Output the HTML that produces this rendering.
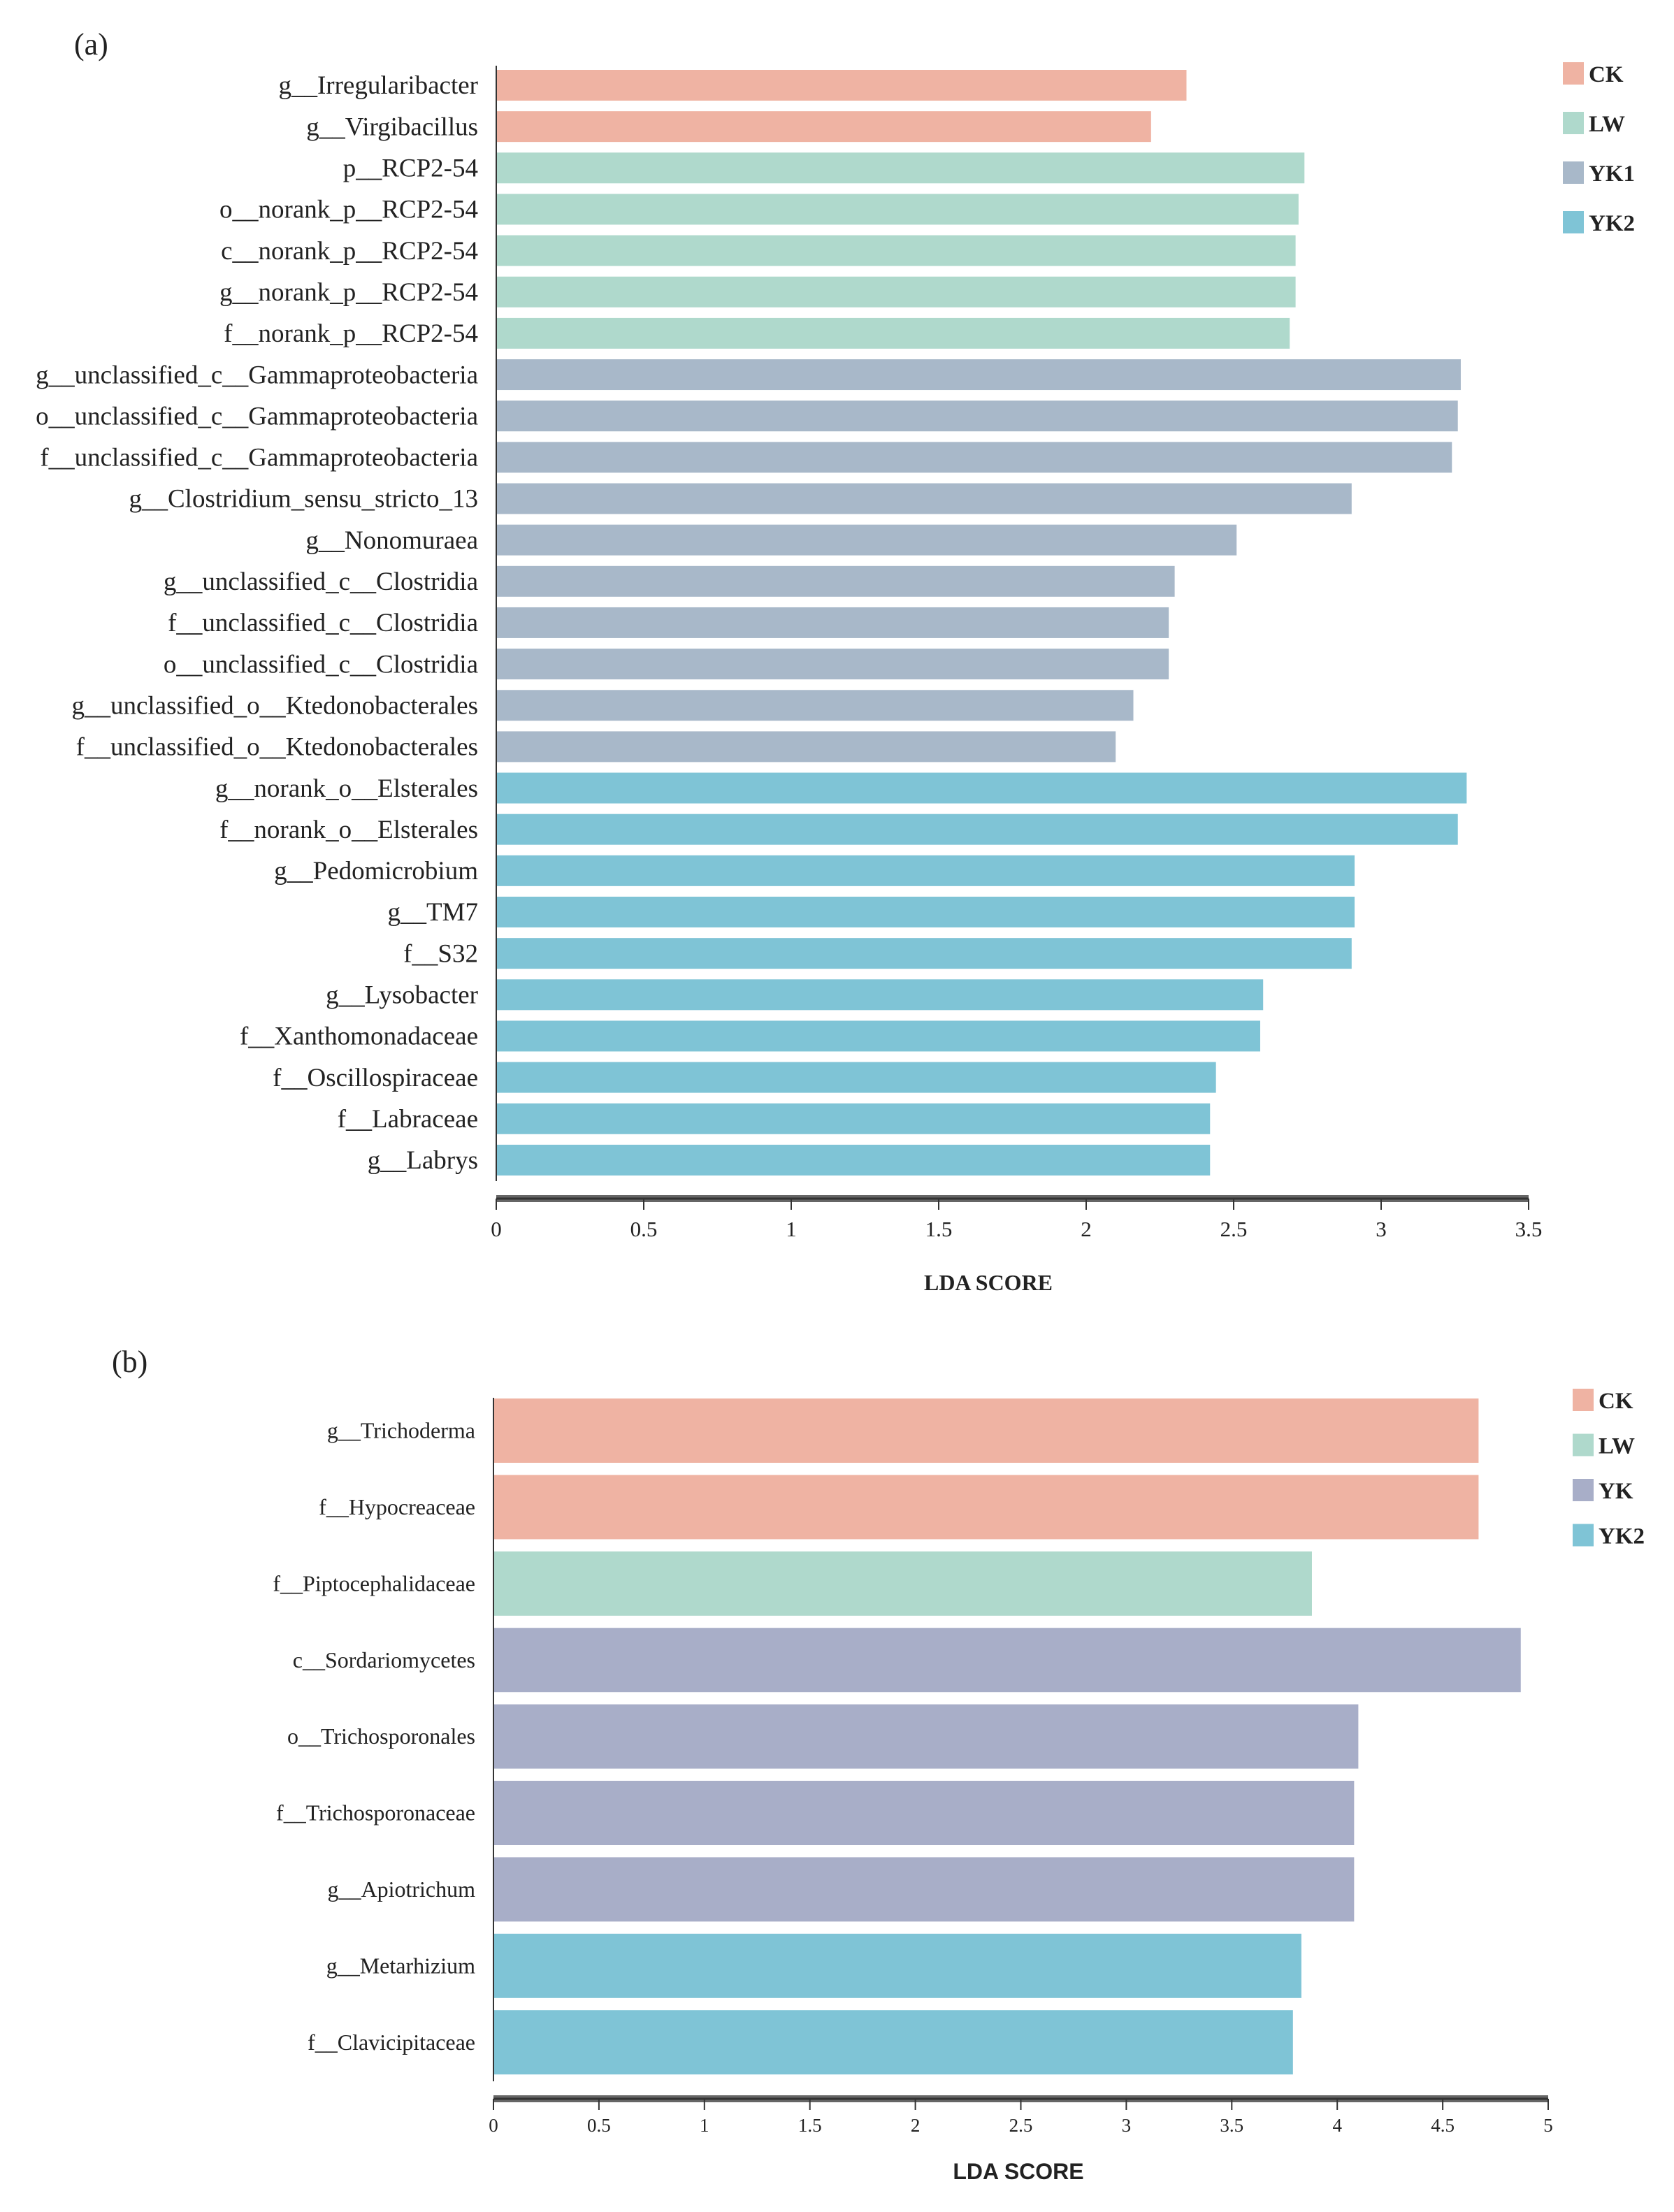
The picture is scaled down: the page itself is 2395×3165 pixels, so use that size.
<!DOCTYPE html>
<html><head><meta charset="utf-8"><style>
html,body{margin:0;padding:0;background:#fff;}
svg{display:block;}
text{font-family:"Liberation Serif",serif;fill:#222;}
</style></head><body>
<svg id="chart" width="2395" height="3165" viewBox="0 0 2395 3165" xmlns="http://www.w3.org/2000/svg"></svg>
<script>
// Panel (a) data
const catsA = ["g__Irregularibacter","g__Virgibacillus","p__RCP2-54","o__norank_p__RCP2-54","c__norank_p__RCP2-54","g__norank_p__RCP2-54","f__norank_p__RCP2-54","g__unclassified_c__Gammaproteobacteria","o__unclassified_c__Gammaproteobacteria","f__unclassified_c__Gammaproteobacteria","g__Clostridium_sensu_stricto_13","g__Nonomuraea","g__unclassified_c__Clostridia","f__unclassified_c__Clostridia","o__unclassified_c__Clostridia","g__unclassified_o__Ktedonobacterales","f__unclassified_o__Ktedonobacterales","g__norank_o__Elsterales","f__norank_o__Elsterales","g__Pedomicrobium","g__TM7","f__S32","g__Lysobacter","f__Xanthomonadaceae","f__Oscillospiraceae","f__Labraceae","g__Labrys"];
const valsA = [2.34,2.22,2.74,2.72,2.71,2.71,2.69,3.27,3.26,3.24,2.90,2.51,2.30,2.28,2.28,2.16,2.10,3.29,3.26,2.91,2.91,2.90,2.60,2.59,2.44,2.42,2.42];
const groupsA = ["CK","CK","LW","LW","LW","LW","LW","YK1","YK1","YK1","YK1","YK1","YK1","YK1","YK1","YK1","YK1","YK2","YK2","YK2","YK2","YK2","YK2","YK2","YK2","YK2","YK2"];
const legendA = ["CK","LW","YK1","YK2"];
const ticksA = ["0","0.5","1","1.5","2","2.5","3","3.5"];
// Panel (b) data
const catsB = ["g__Trichoderma","f__Hypocreaceae","f__Piptocephalidaceae","c__Sordariomycetes","o__Trichosporonales","f__Trichosporonaceae","g__Apiotrichum","g__Metarhizium","f__Clavicipitaceae"];
const valsB = [4.67,4.67,3.88,4.87,4.10,4.08,4.08,3.83,3.79];
const groupsB = ["CK","CK","LW","YK","YK","YK","YK","YK2","YK2"];
const legendB = ["CK","LW","YK","YK2"];
const ticksB = ["0","0.5","1","1.5","2","2.5","3","3.5","4","4.5","5"];

const colors = {CK:"#efb3a3",LW:"#afd9cc",YK1:"#a8b8c9",YK:"#a8aec8",YK2:"#7fc4d6"};
const svg = document.getElementById('chart');
const NS = "http://www.w3.org/2000/svg";
function mk(tag, attrs, parent){ const e=document.createElementNS(NS,tag); for(const k in attrs) e.setAttribute(k,attrs[k]); (parent||svg).appendChild(e); return e; }

function panel(cfg){
  const g = mk('g',{});
  
  
  const xs = v => cfg.x0 + v*cfg.unit;
  const ys = i => cfg.y0 + i*cfg.pitch;
  const t = mk('text',{x:cfg.titleX,y:cfg.titleY,'font-size':44},g); t.textContent=cfg.title;
  
  
  cfg.cats.forEach((c,i)=>{
    const r = mk('rect',{x:xs(0),y:ys(i)-cfg.bh/2,width:xs(cfg.vals[i])-xs(0),height:cfg.bh,fill:colors[cfg.groups[i]]},g);
    
    
    const l = mk('text',{x:cfg.x0-26,y:ys(i)+cfg.lfs*0.33,'font-size':cfg.lfs,'text-anchor':'end'},g);
    l.textContent=c;
    
    
  });
  const ya = mk('line',{x1:cfg.x0,x2:cfg.x0,y1:cfg.yTop,y2:cfg.yBot,stroke:'#333','stroke-width':2},g);
  
  
  const tmax = parseFloat(cfg.ticks[cfg.ticks.length-1]);
  const xa = mk('rect',{x:xs(0),y:cfg.axY-5,width:xs(tmax)-xs(0),height:10,fill:'#666'},g);
  
  
  mk('line',{x1:xs(0),x2:xs(tmax),y1:cfg.axY,y2:cfg.axY,stroke:'#333','stroke-width':3},g);
  cfg.ticks.forEach(tk=>{
    const v=parseFloat(tk);
    mk('line',{x1:xs(v),x2:xs(v),y1:cfg.axY,y2:cfg.axY+16,stroke:'#333','stroke-width':2},g);
    const tl=mk('text',{x:xs(v),y:cfg.tickY,'font-size':cfg.tfs,'text-anchor':'middle'},g);
    tl.textContent=tk;
    
    
  });
  const at = mk('text',{x:cfg.atX,y:cfg.atY,'font-size':cfg.atfs,'text-anchor':'middle','font-weight':'bold',style:cfg.atFont},g);
  at.textContent='LDA SCORE';
  
  
  cfg.legend.forEach((k,i)=>{
    const y = cfg.legY + i*cfg.legP;
    const s = mk('rect',{x:cfg.legX,y:y,width:30,height:32,fill:colors[k]},g);
    
    
    const lt = mk('text',{x:cfg.legX+37,y:y+28,'font-size':33,'font-weight':'bold'},g);
    lt.textContent=k;
    
    
  });
}
panel({name:'panel-a',title:'(a)',titleX:106,titleY:78,cats:catsA,vals:valsA,groups:groupsA,ticks:ticksA,legend:legendA,
  x0:710,unit:422,y0:122,pitch:59.15,bh:44,lfs:37,yTop:94,yBot:1690,axY:1715,tickY:1769,tfs:31,atX:1414,atY:1846,atfs:32,atFont:'font-family:"Liberation Serif",serif',
  legX:2236,legY:89,legP:71});
panel({name:'panel-b',title:'(b)',titleX:160,titleY:1963,cats:catsB,vals:valsB,groups:groupsB,ticks:ticksB,legend:legendB,
  x0:706,unit:301.8,y0:2047,pitch:109.4,bh:92,lfs:32,yTop:2000,yBot:2978,axY:3003,tickY:3050,tfs:27,atX:1457,atY:3118,atfs:32,atFont:'font-family:"Liberation Sans",sans-serif',
  legX:2250,legY:1987,legP:64.5});
</script>
</body></html>
